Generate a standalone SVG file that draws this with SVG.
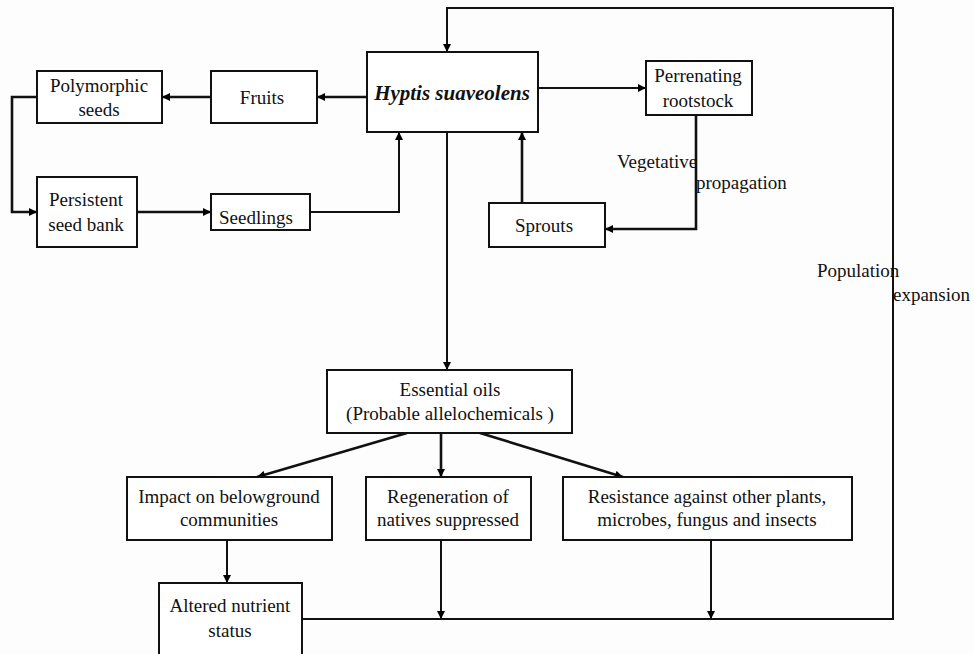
<svg xmlns="http://www.w3.org/2000/svg" width="974" height="654" viewBox="0 0 974 654">
  <defs>
    <marker id="ah" viewBox="0 0 10 10" refX="10" refY="5" markerWidth="9" markerHeight="8" markerUnits="userSpaceOnUse" orient="auto">
      <path d="M0,0 L10,5 L0,10 z" fill="#000"/>
    </marker>
  </defs>
  <style>
    .box { fill: #fff; stroke: #111; stroke-width: 2; }
    .t { font-family: "Liberation Serif", "Times New Roman", serif; font-size: 19px; fill: #111; text-anchor: middle; }
    .lbl { font-family: "Liberation Serif", "Times New Roman", serif; font-size: 19px; fill: #111; }
    .c { fill: none; stroke: #111; stroke-width: 2; }
    .ca { fill: none; stroke: #111; stroke-width: 2; marker-end: url(#ah); }
    .thick { stroke-width: 2.6; }
  </style>
  <rect x="0" y="0" width="974" height="654" fill="#fdfdfd"/>

  <g id="connectors">
    <path class="ca" d="M302,619 H893 V8 H447 V52"/>
    <path class="ca thick" d="M367,97 H317"/>
    <path class="ca thick" d="M211,97 H162"/>
    <path class="ca thick" d="M37,97 H12 V212 H37"/>
    <path class="ca thick" d="M137,212 H211"/>
    <path class="ca" d="M310,212 H399 V132"/>
    <path class="ca" d="M538,88 H646"/>
    <path class="ca thick" d="M696,115 V229 H605"/>
    <path class="ca thick" d="M522,203 V132"/>
    <path class="ca" d="M447,132 V370"/>
    <path class="ca thick" d="M407,433 L257,477"/>
    <path class="ca thick" d="M441,433 V477"/>
    <path class="ca thick" d="M480,433 L623,477"/>
    <path class="ca" d="M227,540 V583"/>
    <path class="ca" d="M441,540 V619"/>
    <path class="ca" d="M711,540 V619"/>
  </g>

  <g id="hyptis">
    <rect class="box" x="367" y="52" width="171" height="80"/>
    <text class="t" x="452" y="100" style="font-weight:bold;font-style:italic;font-size:21px">Hyptis suaveolens</text>
  </g>
  <g id="fruits">
    <rect class="box" x="211" y="71" width="106" height="52"/>
    <text class="t" x="262" y="104">Fruits</text>
  </g>
  <g id="polymorphic">
    <rect class="box" x="37" y="71" width="125" height="52"/>
    <text class="t" x="99" y="92">Polymorphic</text>
    <text class="t" x="99" y="116">seeds</text>
  </g>
  <g id="persistent">
    <rect class="box" x="37" y="177" width="100" height="70"/>
    <text class="t" x="86" y="206">Persistent</text>
    <text class="t" x="86" y="231">seed bank</text>
  </g>
  <g id="seedlings">
    <rect class="box" x="211" y="194" width="99" height="36"/>
    <text class="t" x="256" y="224">Seedlings</text>
  </g>
  <g id="perrenating">
    <rect class="box" x="646" y="61" width="106" height="54"/>
    <text class="t" x="698" y="82">Perrenating</text>
    <text class="t" x="698" y="107">rootstock</text>
  </g>
  <g id="sprouts">
    <rect class="box" x="489" y="203" width="116" height="44"/>
    <text class="t" x="544" y="232">Sprouts</text>
  </g>
  <g id="essential-oils">
    <rect class="box" x="327" y="370" width="245" height="63"/>
    <text class="t" x="450" y="396">Essential oils</text>
    <text class="t" x="450" y="420">(Probable allelochemicals )</text>
  </g>
  <g id="impact">
    <rect class="box" x="127" y="477" width="205" height="63"/>
    <text class="t" x="229" y="503">Impact on belowground</text>
    <text class="t" x="229" y="526">communities</text>
  </g>
  <g id="regeneration">
    <rect class="box" x="366" y="477" width="165" height="63"/>
    <text class="t" x="448" y="503">Regeneration of</text>
    <text class="t" x="448" y="526">natives suppressed</text>
  </g>
  <g id="resistance">
    <rect class="box" x="563" y="477" width="289" height="63"/>
    <text class="t" x="707" y="503">Resistance against other plants,</text>
    <text class="t" x="707" y="526">microbes, fungus and insects</text>
  </g>
  <g id="altered">
    <rect class="box" x="159" y="583" width="143" height="80"/>
    <text class="t" x="230" y="612">Altered nutrient</text>
    <text class="t" x="230" y="637">status</text>
  </g>

  <g id="labels">
    <text class="lbl" x="617" y="168">Vegetative</text>
    <text class="lbl" x="696" y="189">propagation</text>
    <text class="lbl" x="817" y="277">Population</text>
    <text class="lbl" x="893" y="301">expansion</text>
  </g>
</svg>
